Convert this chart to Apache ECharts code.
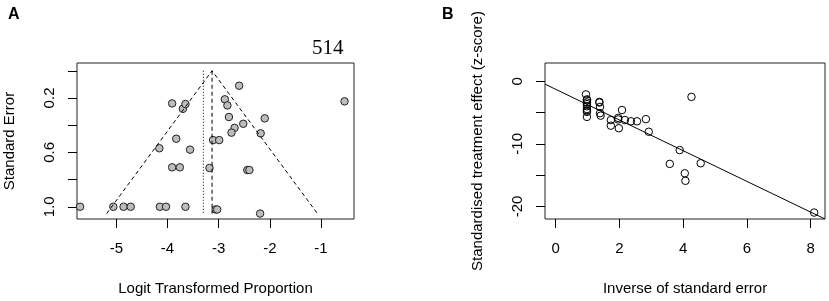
<!DOCTYPE html>
<html>
<head>
<meta charset="utf-8">
<title>Funnel and Egger plots</title>
<script src="https://cdn.jsdelivr.net/npm/echarts@6.0.0/dist/echarts.min.js"></script>
<style>
  html, body { margin: 0; padding: 0; background: #fff; }
  #chart { width: 829px; height: 301px; }
</style>
</head>
<body>
<div id="chart"></div>
<script>
// panel A: funnel plot (logit proportion vs standard error)
var aLogit = [-5.71, -5.06, -4.86, -4.72, -4.15, -4.03, -3.65, -3.06, -3.03, -2.19,
  -3.91, -3.76, -3.18, -2.44, -2.40, -4.16, -3.56, -3.83, -3.11, -2.99,
  -3.91, -3.70, -3.65, -2.60, -2.88, -2.83, -2.80, -2.52, -2.69, -2.75,
  -2.18, -2.10, -0.54];
var aSE = [1.0, 1.0, 1.0, 1.0, 1.0, 1.0, 1.0, 1.02, 1.02, 1.05,
  0.71, 0.71, 0.715, 0.73, 0.73, 0.57, 0.58, 0.50, 0.51, 0.51,
  0.24, 0.28, 0.245, 0.11, 0.21, 0.255, 0.34, 0.39, 0.42, 0.455,
  0.46, 0.35, 0.225];
var aFunnelX = [-5.19, -3.13, -1.07];
var aFunnelY = [1.05, 0, 1.05];
var aPooled = -3.13;   // dashed
var aDotted = -3.30;   // dotted
var aSEmax = 1.05;
var aXTicks = [-5, -4, -3, -2, -1];
var aYTicks = [0, 0.2, 0.4, 0.6, 0.8, 1.0];
var aYLabels = [0.2, 0.6, 1.0];

// panel B: Egger plot (precision vs z-score)
var bPrec = [0.95, 0.98, 0.98, 0.98, 0.98, 0.98, 0.98, 0.98, 0.98, 0.98,
  1.37, 1.37, 1.39, 1.39, 1.41, 1.73, 1.73, 1.96, 1.98, 1.96,
  2.08, 2.17, 2.36, 2.55, 2.83, 2.92, 3.58, 3.89, 4.05, 4.07,
  4.26, 4.55, 8.11];
var bZ = [-2.1, -2.9, -3.05, -3.4, -3.65, -4.0, -4.45, -4.7, -4.9, -5.7,
  -3.3, -3.4, -4.1, -5.1, -5.5, -6.2, -7.1, -5.85, -7.5, -6.1,
  -4.6, -6.2, -6.4, -6.4, -6.05, -8.07, -13.2, -11.0, -14.7, -15.9,
  -2.5, -13.1, -20.97];
var bLineX = [-0.336, 8.45];
var bLineZ = [-0.47, -22.0];
var bXTicks = [0, 2, 4, 6, 8];
var bYTicks = [0, -5, -10, -15, -20];
var bYLabels = [0, -10, -20];

function zip(xs, ys) {
  return xs.map(function (x, i) { return [x, ys[i]]; });
}

var font = 'Liberation Sans, Arial, sans-serif';

function xAxisCfg(idx, min, max, ticks, name) {
  return {
    type: 'value', gridIndex: idx, min: min, max: max, position: 'bottom',
    splitLine: {show: false},
    axisLine: {show: false, onZero: false},
    axisTick: {show: true, length: 9, customValues: ticks, lineStyle: {color: '#000'}},
    axisLabel: {customValues: ticks, margin: 22, color: '#000', fontSize: 15, fontFamily: font},
    name: name, nameLocation: 'middle', nameGap: 62,
    nameTextStyle: {color: '#000', fontSize: 15, fontFamily: font}
  };
}

function yAxisCfg(idx, min, max, ticks, labels, name, inverse, fmt) {
  return {
    type: 'value', gridIndex: idx, min: min, max: max, inverse: inverse, position: 'left',
    splitLine: {show: false},
    axisLine: {show: false, onZero: false},
    axisTick: {show: true, length: 9, customValues: ticks, lineStyle: {color: '#000'}},
    axisLabel: {customValues: labels, rotate: 90, margin: 20, color: '#000', fontSize: 15, fontFamily: font, formatter: fmt},
    name: name, nameLocation: 'middle', nameGap: 60,
    nameTextStyle: {color: '#000', fontSize: 15, fontFamily: font}
  };
}

var chart = echarts.init(document.getElementById('chart'), null, {renderer: 'canvas'});
chart.setOption({
  animation: false,
  backgroundColor: '#fff',
  grid: [
    {left: 77, top: 63, width: 277, height: 156, show: true, borderColor: '#222', borderWidth: 1, backgroundColor: 'transparent'},
    {left: 545, top: 63, width: 280, height: 156, show: true, borderColor: '#222', borderWidth: 1, backgroundColor: 'transparent'}
  ],
  xAxis: [
    xAxisCfg(0, -5.77, -0.355, aXTicks, 'Logit Transformed Proportion'),
    xAxisCfg(1, -0.336, 8.45, bXTicks, 'Inverse of standard error')
  ],
  yAxis: [
    yAxisCfg(0, -0.057, 1.09, aYTicks, aYLabels, 'Standard Error', true,
      function (v) { return v.toFixed(1); }),
    yAxisCfg(1, -22.0, 2.91, bYTicks, bYLabels, 'Standardised treatment effect (z-score)', false,
      function (v) { return String(v); })
  ],
  graphic: [
    {type: 'text', left: 8, top: 7, style: {text: 'A', font: 'bold 16px ' + font, fill: '#000'}},
    {type: 'text', left: 442, top: 7, style: {text: 'B', font: 'bold 16px ' + font, fill: '#000'}},
    {type: 'text', left: 312, top: 38, style: {text: '514', font: '21px Liberation Serif, Times New Roman, serif', fill: '#000'}}
  ],
  series: [
    {
      type: 'line', xAxisIndex: 0, yAxisIndex: 0, symbol: 'none',
      data: zip(aFunnelX, aFunnelY),
      lineStyle: {color: '#000', width: 1, type: [4, 3]}
    },
    {
      type: 'line', xAxisIndex: 0, yAxisIndex: 0, symbol: 'none',
      data: [[aPooled, 0], [aPooled, aSEmax]],
      lineStyle: {color: '#000', width: 1, type: [4, 3]}
    },
    {
      type: 'line', xAxisIndex: 0, yAxisIndex: 0, symbol: 'none',
      data: [[aDotted, 0], [aDotted, aSEmax]],
      lineStyle: {color: '#000', width: 1, type: [1, 2]}
    },
    {
      type: 'scatter', xAxisIndex: 0, yAxisIndex: 0, symbolSize: 7.5,
      data: zip(aLogit, aSE),
      itemStyle: {color: '#bdbdbd', borderColor: '#222', borderWidth: 1, opacity: 1}
    },
    {
      type: 'line', xAxisIndex: 1, yAxisIndex: 1, symbol: 'none',
      data: zip(bLineX, bLineZ),
      lineStyle: {color: '#000', width: 1}
    },
    {
      type: 'scatter', xAxisIndex: 1, yAxisIndex: 1, symbolSize: 7.5,
      data: zip(bPrec, bZ),
      itemStyle: {color: 'rgba(0,0,0,0)', borderColor: '#000', borderWidth: 1, opacity: 1}
    }
  ]
});
</script>
</body>
</html>
